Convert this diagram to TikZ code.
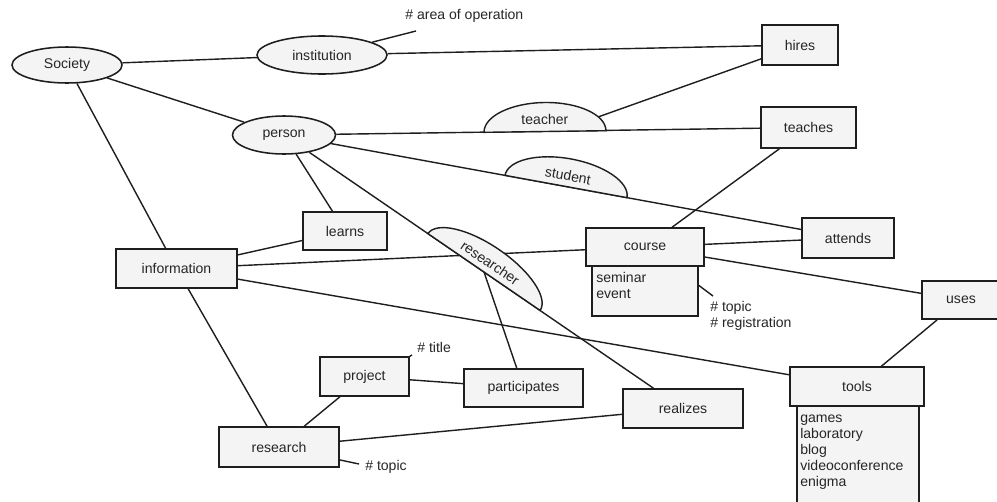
\documentclass[tikz,border=0pt]{standalone}
\usepackage{fontspec}
\setmainfont{Liberation Sans}
\usetikzlibrary{shapes.geometric}
\definecolor{boxfill}{HTML}{F4F4F4}
\definecolor{edgeline}{HTML}{1E1E1E}
\begin{document}
\begin{tikzpicture}[x = .025cm, y = -.025cm, font = \fontsize{10}{11.4}\selectfont, text = black!85,
    shapebox/.style = {draw = edgeline, line width = 1.1pt, fill = boxfill, inner sep = 0pt},
    relbox/.style = {shapebox, rectangle, minimum height = .975cm},
    entell/.style = {shapebox, ellipse},
    halfell/.style = {draw = edgeline, line width = 1pt, fill = boxfill},
    link/.style = {line width = 1pt, draw = edgeline},
    note/.style = {anchor = west, inner sep = 0pt, align = left},
    listtext/.style = {anchor = north west, inner sep = 0pt, align = left}]
      \useasboundingbox (0,0) rectangle (997,501);
      \node [ entell, minimum width = 2.75cm, minimum height = .9cm ] (society) at (67,65) {Society};
      \node [ entell, minimum width = 3.25cm, minimum height = .95cm ] (institution) at (322,55) {institution};
      \node [ entell, minimum width = 2.575cm, minimum height = .95cm ] (person) at (284,135) {person};
      \node [ relbox, minimum width = 1.9cm, minimum height = 1cm ] (hires) at (800,45) {hires};
      \node [ relbox, minimum width = 2.375cm, minimum height = 1.025cm ] (teaches) at (808.5,127.5) {teaches};
      \node [ relbox, minimum width = 2.3cm, minimum height = 1cm ] (attends) at (848,238) {attends};
      \node [ relbox, minimum width = 2.1cm, minimum height = .95cm ] (learns) at (345,231) {learns};
      \node [ relbox, minimum width = 3.025cm ] (information) at (176.5,268.5) {information};
      \node [ relbox, minimum width = 2.65cm, minimum height = 1.25cm ] (coursesub) at (645,291) {};
      \node [ relbox, minimum width = 2.95cm, minimum height = .95cm ] (course) at (645,247) {course};
      \node [ relbox, minimum width = 1.95cm, minimum height = .95cm ] (uses) at (961,300) {uses};
      \node [ relbox, minimum width = 3.05cm, minimum height = 2.85cm ] (toolssub) at (858,463) {};
      \node [ relbox, minimum width = 3.35cm ] (tools) at (857,386.5) {tools};
      \node [ relbox, minimum width = 2.225cm ] (project) at (364.5,376.5) {project};
      \node [ relbox, minimum width = 2.975cm, minimum height = .95cm ] (participates) at (523.5,388) {participates};
      \node [ relbox, minimum width = 3cm, minimum height = 1cm ] (research) at (279,447) {research};
      \node [ relbox, minimum width = 3cm ] (realizes) at (683,408.5) {realizes};
      \node [ listtext ] (courselist) at (596,272) {seminar\\event};
      \node [ listtext ] (toolslist) at (800,415) {games\\laboratory\\blog\\videoconference\\enigma};
      \node [ note ] (areanote) at (405,16) {\# area of operation};
      \node [ note ] (titlenote) at (417,347) {\# title};
      \node [ note ] (rtopicnote) at (365,467) {\# topic};
      \node [ note ] (ctopicnote) at (710,316) {\# topic\\\# registration};
      \coordinate (areaend) at (416,31);
      \coordinate (titleend) at (412,355);
      \coordinate (rtopicend) at (359,464);
      \coordinate (ctopicend) at (713,296);
      \coordinate (teachtip) at (598,117);
      \coordinate (resbase) at (484,272);
      \draw [ link ] (society) -- (institution);
      \draw [ link ] (society) -- (person);
      \draw [ link ] (society) -- (information);
      \draw [ link ] (institution) -- (hires);
      \draw [ link ] (areaend) -- (institution);
      \draw [ link ] (person) -- (teaches);
      \draw [ link ] (teachtip) -- (hires);
      \draw [ link ] (person) -- (attends);
      \draw [ link ] (person) -- (learns);
      \draw [ link ] (person) -- (realizes);
      \draw [ link ] (learns) -- (information);
      \draw [ link ] (information) -- (course);
      \draw [ link ] (information) -- (tools);
      \draw [ link ] (information) -- (research);
      \draw [ link ] (course) -- (teaches);
      \draw [ link ] (course) -- (attends);
      \draw [ link ] (course) -- (uses);
      \draw [ link ] (uses) -- (tools);
      \draw [ link ] ([yshift = 4pt]coursesub.east) -- (ctopicend);
      \draw [ link ] (project) -- (participates);
      \draw [ link ] (project) -- (research);
      \draw [ link ] (project.north east) -- (titleend);
      \draw [ link ] (research) -- (realizes);
      \draw [ link ] (rtopicend) -- (research);
      \begin{scope}[shift = {(545,131.5)}, rotate = .77]
        \draw [ halfell ] (-61,0) arc [start angle = 180, end angle = 360, x radius = 61, y radius = 29] -- cycle;
        \node [ rotate = .77 ] (teacher) at (0,-12) {teacher};
      \end{scope}
      \begin{scope}[shift = {(566,186.5)}, rotate = -10.35]
        \draw [ halfell ] (-62,0) arc [start angle = 180, end angle = 360, x radius = 62, y radius = 28] -- cycle;
        \node [ rotate = -10.35 ] (student) at (0,-11) {student};
      \end{scope}
      \begin{scope}[shift = {(484,272)}, rotate = -34.4]
        \draw [ halfell ] (-68,0) arc [start angle = 180, end angle = 360, x radius = 68, y radius = 27] -- cycle;
        \node [ rotate = -34.4 ] (researcher) at (0,-11) {researcher};
      \end{scope}
      \draw [ link ] (resbase) -- (participates);
\end{tikzpicture}
\end{document}
